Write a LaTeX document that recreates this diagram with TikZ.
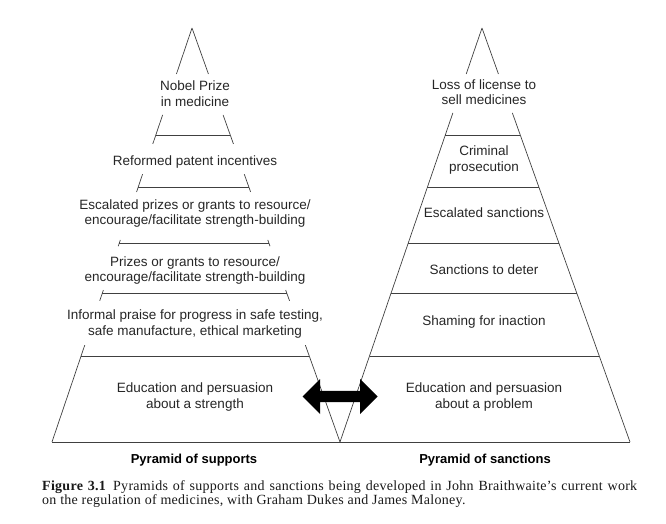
\documentclass[tikz,border=0pt]{standalone}
\usepackage{fontspec}
\setmainfont{Liberation Serif}
\newfontfamily\helv{Liberation Sans}
\newfontfamily\capfont[LetterSpace=2.0]{Liberation Serif}
\usetikzlibrary{calc,positioning,shapes.arrows}
\tikzset{%
	tier/.style      = {font=\helv\fontsize{13.5}{15.6}\selectfont, align=center, text=black!85, inner sep=0pt},
	footlabel/.style = {font=\helv\bfseries\fontsize{13}{15}\selectfont, text=black, inner sep=0pt},
	pyrline/.style   = {line width=0.7pt, draw=black!75},
	bothway/.style   = {double arrow, fill=black, draw=none, minimum height=75pt, minimum width=34.7pt, double arrow head extend=11.8pt, inner xsep=0pt, inner ysep=5.5pt},
}
\begin{document}
\begin{tikzpicture}[x=1pt,y=-1pt]
	\useasboundingbox (0,0) rectangle (666,524);
	
	% corners of the two pyramids
	\coordinate (supTop) at (192,28);
	\coordinate (supL) at (52,442);
	\coordinate (supR) at (340,442);
	\coordinate (sanTop) at (482,28);
	\coordinate (sanL) at (340,442);
	\coordinate (sanR) at (630,442);
	
	% pyramid of supports, sides broken by the text
	\foreach \a/\b in {0/0.111,0.210/0.280,0.353/0.396,0.512/0.527,0.633/0.659,0.766/1}
		\draw[pyrline] ($(supTop)!\a!(supL)$) -- ($(supTop)!\b!(supL)$)
		               ($(supTop)!\a!(supR)$) -- ($(supTop)!\b!(supR)$);
	% pyramid of sanctions
	\foreach \a/\b in {0/0.111,0.205/1}
		\draw[pyrline] ($(sanTop)!\a!(sanL)$) -- ($(sanTop)!\b!(sanL)$)
		               ($(sanTop)!\a!(sanR)$) -- ($(sanTop)!\b!(sanR)$);
	% levels
	\foreach \f in {0.259,0.386,0.521,0.642,0.792} {
		\draw[pyrline] ($(supTop)!\f!(supL)$) -- ($(supTop)!\f!(supR)$);
		\draw[pyrline] ($(sanTop)!\f!(sanL)$) -- ($(sanTop)!\f!(sanR)$);
	}
	\draw[pyrline] (supL) -- (sanR);  % ground line
	
	% supports
	\node[tier] (nobel) at (195,93.5) {Nobel Prize\\in medicine};
	\node[tier] (patent) at (195,162) {Reformed patent incentives};
	\node[tier] (escPrize) at (195,213.5) {Escalated prizes or grants to resource/\\encourage/facilitate strength-building};
	\node[tier] (prize) at (195,270.5) {Prizes or grants to resource/\\encourage/facilitate strength-building};
	\node[tier] (praise) at (195,324) {Informal praise for progress in safe testing,\\safe manufacture, ethical marketing};
	\node[tier] (eduSup) at (195,397) {Education and persuasion\\about a strength};
	
	% sanctions
	\node[tier] (license) at (484,92.2) {Loss of license to\\sell medicines};
	\node[tier] (criminal) at (484,160.3) {Criminal\\prosecution};
	\node[tier] (escSanc) at (484,212.3) {Escalated sanctions};
	\node[tier] (deter) at (484,269.3) {Sanctions to deter};
	\node[tier] (shaming) at (484,321.7) {Shaming for inaction};
	\node[tier] (eduSan) at (484,397) {Education and persuasion\\about a problem};
	
	\node[bothway] (swap) at (340.2,396.5) {};
	
	\node[footlabel] (supName) at (194,460.5) {Pyramid of supports};
	\node[footlabel] (sanName) at (485,460.5) {Pyramid of sanctions};
	
	\node[anchor=base west, text width=595pt, align=justify, inner sep=0pt, font=\capfont\fontsize{14}{14}\selectfont, text=black!90] (caption) at (42,490)
		{\textbf{Figure 3.1}\enspace Pyramids of supports and sanctions being developed in John Braithwaite’s current work\linebreak on the regulation of medicines, with Graham Dukes and James Maloney.};
\end{tikzpicture}
\end{document}
